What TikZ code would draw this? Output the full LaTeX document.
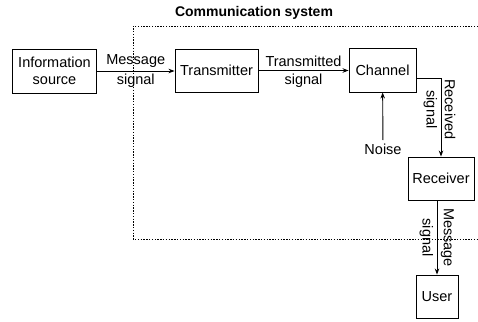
\documentclass[tikz,border=0pt]{standalone}
\usepackage{fontspec}
\setmainfont{Liberation Sans}
\usetikzlibrary{arrows.meta}

\begin{document}
\begin{tikzpicture}[x=1pt,y=-1pt,
    every node/.style={font=\fontsize{14.5}{17}\selectfont},
    block/.style={draw, line width=0.9pt, inner sep=0pt, align=center},
    flow/.style={-{Stealth[length=6pt,width=4.5pt]}, line width=0.9pt}]
\useasboundingbox (0,0) rectangle (478,321);

% blocks
\node[block, minimum width=84pt, minimum height=44pt] (source) at (54.5,71) {Information\\source};
\node[block, minimum width=83pt, minimum height=43pt] (transmitter) at (216.5,70.5) {Transmitter};
\node[block, minimum width=67pt, minimum height=44pt] (channel) at (382.5,70) {Channel};
\node[block, minimum width=66pt, minimum height=43pt] (receiver) at (441,178.5) {Receiver};
\node[block, minimum width=42pt, minimum height=43pt] (user) at (437,296.5) {User};
\node (noise) at (383,149) {Noise};
\node[font=\bfseries\fontsize{14}{17}\selectfont] (title) at (254,13) {Communication system};

% system frame
\draw[line width=0.9pt, dash pattern=on 1.4pt off 1.4pt] (478,26) -- (133,26) -- (133,239) -- (478,239);

% signals
\draw[flow] (source.east) -- (source.east -| transmitter.west)
    node[midway, above, inner sep=3.5pt] {Message} node[midway, below, inner sep=3pt] {signal};
\draw[flow] (transmitter.east) -- (transmitter.east -| channel.west)
    node[midway, above, inner sep=3.5pt] {Transmitted} node[midway, below, inner sep=3pt] {signal};
\draw[flow] ([yshift=-8pt]channel.east) -| (receiver.north)
    node[pos=0.7, anchor=south, rotate=-90] {Received}
    node[pos=0.7, anchor=north, rotate=-90] {signal};
\draw[flow] (noise) -- (channel);
\draw[flow] (receiver.south -| user.north) -- (user.north)
    node[midway, anchor=south, rotate=-90] {Message}
    node[midway, anchor=north, rotate=-90] {signal};
\end{tikzpicture}
\end{document}
